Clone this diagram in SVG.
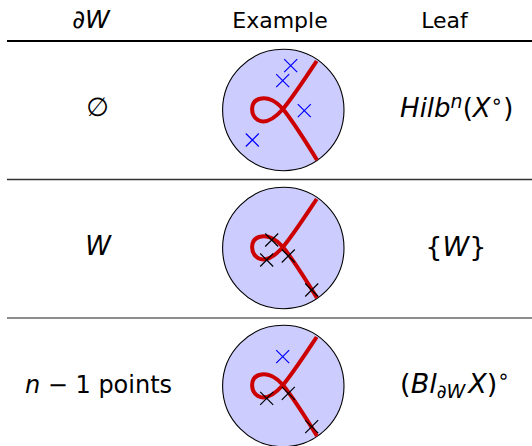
<svg xmlns="http://www.w3.org/2000/svg" xmlns:xlink="http://www.w3.org/1999/xlink" width="532" height="446" viewBox="0 0 532 446">
<style>
.t{font-family:"DejaVu Sans","Liberation Sans",sans-serif;font-size:22px;fill:#000;text-anchor:middle}
.m{font-size:26px}
.i{font-style:italic}
.disk{fill:#ccccff;stroke:#000;stroke-width:1.1}
.curve{fill:none;stroke:#cc0000;stroke-width:4;stroke-linecap:butt}
.xb{stroke:#0000ff;stroke-width:1.2;fill:none}
.xk{stroke:#000;stroke-width:1.2;fill:none}
</style>
<defs>
<path id="cv" class="curve" d="M316.7,61 C304,80 293,97 283,109 C274,119 265,124 258,120 C250,115 250,102 259,99 C268,96 277,102 283,109 C294,123 306,142 317,160"/>
<path id="cr" d="M-6.5,-6.5 L6.5,6.5 M-6.5,6.5 L6.5,-6.5"/>
</defs>
<g id="header">
<text class="t i" x="91" y="28" style="font-size:25px">∂W</text>
<text class="t" x="280" y="28">Example</text>
<text class="t" x="444.5" y="28">Leaf</text>
<line x1="7" y1="41" x2="532" y2="41" stroke="#000" stroke-width="2"/>
</g>
<g id="row1">
<text class="t m" x="97.5" y="116">∅</text>
<circle class="disk" cx="283.3" cy="110" r="60.7"/>
<use xlink:href="#cv"/>
<g class="xb">
<use xlink:href="#cr" x="290.7" y="65.7"/>
<use xlink:href="#cr" x="282.7" y="80.7"/>
<use xlink:href="#cr" x="304.3" y="110.7"/>
<use xlink:href="#cr" x="252.3" y="140"/>
</g>
<text class="t m" x="456.7" y="117"><tspan class="i">Hilb</tspan><tspan class="i" font-size="19" dy="-9">n</tspan><tspan dy="9">(</tspan><tspan class="i">X</tspan><tspan font-size="20" dy="-9">∘</tspan><tspan dy="9">)</tspan></text>
<line x1="7" y1="179.5" x2="532" y2="179.5" stroke="#333" stroke-width="1.6"/>
</g>
<g id="row2">
<text class="t m i" x="98" y="255">W</text>
<circle class="disk" cx="283.3" cy="248" r="60.7"/>
<use xlink:href="#cv" y="138"/>
<g class="xk">
<use xlink:href="#cr" x="271.7" y="240"/>
<use xlink:href="#cr" x="266.7" y="260"/>
<use xlink:href="#cr" x="288.3" y="256"/>
<use xlink:href="#cr" x="311.7" y="290"/>
</g>
<text class="t" x="455.8" y="256" style="font-size:27px">{<tspan class="i">W</tspan>}</text>
<line x1="7" y1="318" x2="532" y2="318" stroke="#666" stroke-width="1.6"/>
</g>
<g id="row3">
<text class="t" x="98.5" y="393" style="font-size:24px"><tspan class="i">n</tspan> − 1 points</text>
<circle class="disk" cx="283.3" cy="386" r="60.7"/>
<use xlink:href="#cv" y="276"/>
<g class="xb">
<use xlink:href="#cr" x="282.7" y="356.7"/>
</g>
<g class="xk">
<use xlink:href="#cr" x="266.7" y="398.3"/>
<use xlink:href="#cr" x="288.3" y="393.3"/>
<use xlink:href="#cr" x="311.7" y="426.7"/>
</g>
<text class="t" x="455" y="393" style="font-size:27px">(<tspan class="i">Bl</tspan><tspan class="i" font-size="19" dy="5">∂W</tspan><tspan class="i" dx="3" dy="-5">X</tspan>)<tspan font-size="20" dy="-10">∘</tspan></text>
</g>
</svg>
